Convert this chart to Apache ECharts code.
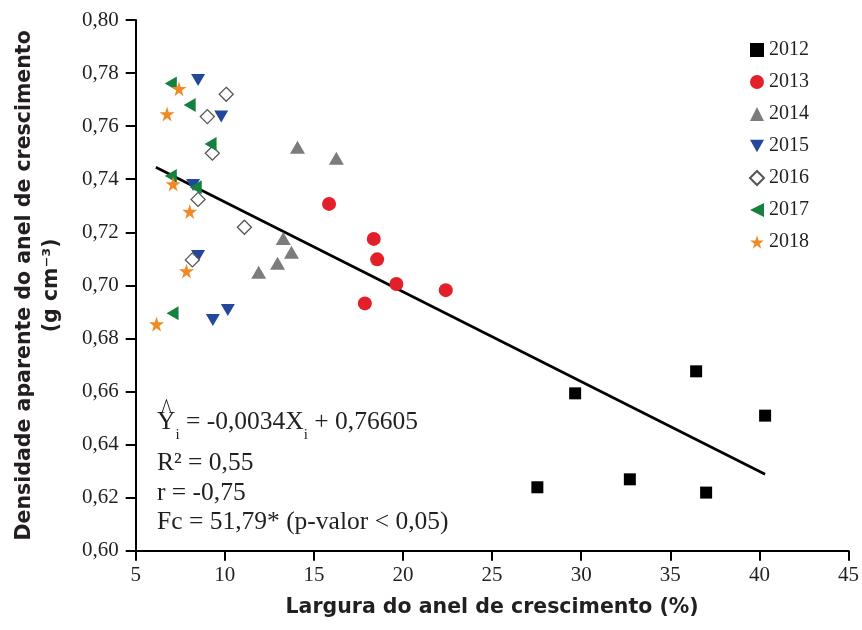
<!DOCTYPE html>
<html>
<head>
<meta charset="utf-8">
<script src="https://cdn.jsdelivr.net/npm/echarts@6/dist/echarts.min.js"></script>
<style>html,body{margin:0;padding:0;background:#fff}#c{width:862px;height:630px}</style>
</head>
<body>
<div id="c"></div>
<script>
// ---- data ----
const years = ['2012', '2013', '2014', '2015', '2016', '2017', '2018'];
const x2012 = [27.54, 29.66, 32.73, 36.45, 37.01, 40.32];
const y2012 = [0.6239, 0.6593, 0.6269, 0.6676, 0.6219, 0.6509];
const x2013 = [15.85, 18.36, 18.55, 19.63, 22.40, 17.86];
const y2013 = [0.7307, 0.7175, 0.7098, 0.7005, 0.6982, 0.6932];
const x2014 = [14.08, 16.26, 13.28, 13.74, 12.96, 11.90];
const y2014 = [0.7520, 0.7479, 0.7177, 0.7125, 0.7083, 0.7049];
const x2015 = [8.50, 9.80, 8.22, 8.50, 9.33, 10.17];
const y2015 = [0.7774, 0.7636, 0.7378, 0.7111, 0.6869, 0.6907];
const x2016 = [10.08, 9.02, 9.30, 8.50, 11.10, 8.18];
const y2016 = [0.7720, 0.7636, 0.7498, 0.7324, 0.7219, 0.7096];
const x2017 = [6.97, 8.03, 9.20, 6.97, 8.37, 7.07];
const y2017 = [0.7761, 0.7680, 0.7533, 0.7412, 0.7370, 0.6895];
const x2018 = [7.43, 6.76, 7.10, 8.03, 7.85, 6.17];
const y2018 = [0.7741, 0.7646, 0.7382, 0.7278, 0.7054, 0.6854];
const fitX = [6.13, 40.32];
const fitY = [0.7445, 0.6288];
const xTicks = [5, 10, 15, 20, 25, 30, 35, 40, 45];
const yTicks = [0.60, 0.62, 0.64, 0.66, 0.68, 0.70, 0.72, 0.74, 0.76, 0.78, 0.80];
const xTitle = 'Largura do anel de crescimento (%)';
const yTitle = 'Densidade aparente do anel de crescimento\n(g cm\u207B\u00B3)';
const eqLines = ['= -0,0034X', '+ 0,76605', 'R\u00B2 = 0,55', 'r = -0,75', 'Fc = 51,79* (p-valor < 0,05)'];

// ---- styling ----
const serif = '"Liberation Serif", "Times New Roman", serif';
const sans = '"DejaVu Sans", "Liberation Sans", Arial, sans-serif';
const txt = '#231f20';
const eqSize = 25.5;
const xsArr = [x2012, x2013, x2014, x2015, x2016, x2017, x2018];
const ysArr = [y2012, y2013, y2014, y2015, y2016, y2017, y2018];
const starPath = 'path://M50,0L61,35L98,35L68,57L79,91L50,70L21,91L32,57L2,35L39,35Z';
const styles = [
  {symbol: 'rect', size: 12, color: '#000000'},
  {symbol: 'circle', size: 14, color: '#e3202a'},
  {symbol: 'triangle', size: [15, 13], color: '#7c7c7c'},
  {symbol: 'path://M0,0L10,0L5,9Z', size: [14, 12], color: '#23489b'},
  {symbol: 'diamond', size: [14, 14], color: '#ffffff', border: '#555555'},
  {symbol: 'path://M10,0L10,10L0,5Z', size: [12, 14], color: '#16803f'},
  {symbol: starPath, size: [15, 15], color: '#f18a25'}
];

const series = years.map((yr, i) => ({
  name: yr,
  type: 'scatter',
  symbol: styles[i].symbol,
  symbolSize: styles[i].size,
  itemStyle: {
    color: styles[i].color,
    borderColor: styles[i].border || styles[i].color,
    borderWidth: styles[i].border ? 1.3 : 0,
    opacity: 1
  },
  z: 3 + i,
  data: xsArr[i].map((x, k) => [x, ysArr[i][k]])
}));
series.push({
  name: 'fit',
  type: 'line',
  symbol: 'none',
  silent: true,
  lineStyle: {color: '#000', width: 2.6},
  z: 2,
  data: fitX.map((x, k) => [x, fitY[k]])
});

const chart = echarts.init(document.getElementById('c'), null, {renderer: 'canvas'});
chart.setOption({
  animation: false,
  backgroundColor: '#ffffff',
  grid: {left: 135.7, right: 10, top: 20, bottom: 79.3, containLabel: false},
  xAxis: {
    type: 'value',
    min: xTicks[0], max: xTicks[xTicks.length - 1], interval: xTicks[1] - xTicks[0],
    splitLine: {show: false},
    axisLine: {lineStyle: {color: '#000', width: 2}},
    axisTick: {length: 10, lineStyle: {color: '#000', width: 2}},
    axisLabel: {fontFamily: serif, fontSize: 21, color: txt, margin: 14},
    name: xTitle, nameLocation: 'middle', nameGap: 46,
    nameTextStyle: {fontFamily: sans, fontWeight: 'bold', fontSize: 20.5, color: txt}
  },
  yAxis: {
    type: 'value',
    min: yTicks[0], max: yTicks[yTicks.length - 1], interval: 0.02,
    splitLine: {show: false},
    axisLine: {show: true, lineStyle: {color: '#000', width: 2}},
    axisTick: {show: true, length: 10, lineStyle: {color: '#000', width: 2}},
    axisLabel: {fontFamily: serif, fontSize: 21, color: txt, margin: 17,
      formatter: v => v.toFixed(2).replace('.', ',')},
    name: yTitle, nameLocation: 'middle', nameGap: 70, nameRotate: 90,
    nameTextStyle: {fontFamily: sans, fontWeight: 'bold', fontSize: 20.5, color: txt, lineHeight: 27.5, align: 'center'}
  },
  legend: {
    data: years,
    orient: 'vertical',
    left: 749, top: 40,
    itemWidth: 14, itemHeight: 14, itemGap: 12,
    textStyle: {fontFamily: serif, fontSize: 20, color: txt, lineHeight: 20},
    padding: 0
  },
  graphic: [
    {type: 'text', x: 166.5, y: 410, scaleY: 1.3, z: 10,
      style: {text: '^', fontFamily: serif, fontSize: 21, fill: txt, align: 'center', verticalAlign: 'middle'}},
    {type: 'text', x: 157, y: 422, z: 10,
      style: {
        text: '{m|Y}{s|i}{m| ' + eqLines[0] + '}{s|i}{m| ' + eqLines[1] + '}',
        verticalAlign: 'middle', fill: txt,
        rich: {
          m: {fontFamily: serif, fontSize: eqSize, lineHeight: 42, fill: txt},
          s: {fontFamily: serif, fontSize: 15, lineHeight: 15, verticalAlign: 'bottom', fill: txt}
        }
      }},
    {type: 'text', x: 157, y: 463, z: 10,
      style: {text: eqLines[2], fontFamily: serif, fontSize: eqSize, fill: txt, verticalAlign: 'middle'}},
    {type: 'text', x: 157, y: 493, z: 10,
      style: {text: eqLines[3], fontFamily: serif, fontSize: eqSize, fill: txt, verticalAlign: 'middle'}},
    {type: 'text', x: 157, y: 522, z: 10,
      style: {text: eqLines[4], fontFamily: serif, fontSize: eqSize, fill: txt, verticalAlign: 'middle'}}
  ],
  series: series
});
</script>
</body>
</html>
